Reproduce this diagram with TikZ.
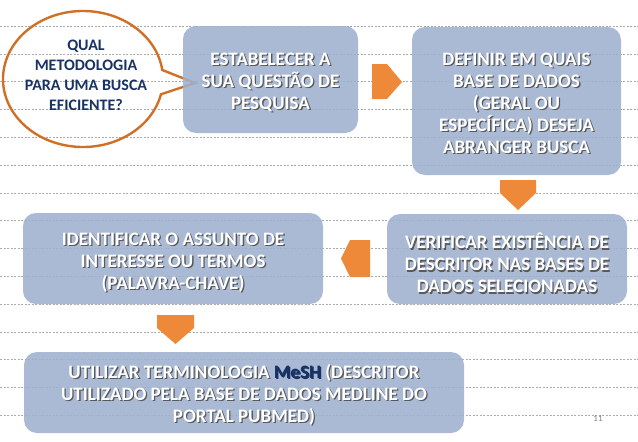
\documentclass[tikz,border=0pt]{standalone}
\usepackage{fontspec}
\setmainfont{Carlito}
\usepackage{xcolor}
\usetikzlibrary{calc}

\definecolor{caixaazul}{RGB}{158,177,207}
\definecolor{laranja}{RGB}{238,137,58}
\definecolor{contorno}{RGB}{208,112,38}
\definecolor{azulescuro}{RGB}{25,50,100}
\definecolor{tracejado}{RGB}{172,172,172}

% texto branco com sombra
\newcommand{\rotulo}[3]{%
  \node[sombra] at ($(#1)+(1.3,#2+1.3)$) {#3};
  \node[texto] (#1-texto) at ($(#1)+(0,#2)$) {#3};}

\begin{document}
\begin{tikzpicture}[x=1pt,y=-1pt,
  caixa/.style={fill=caixaazul, fill opacity=0.88, rounded corners=13pt, inner sep=0pt},
  texto/.style={text=white, font=\bfseries\fontsize{19}{22}\selectfont, align=center},
  sombra/.style={texto, text=black!65}]
\useasboundingbox (0,0) rectangle (638,442);

% linhas do fundo
\foreach \k in {0,...,14}
  \draw[tracejado, line width=0.5pt, dash pattern=on 2pt off 1.5pt] (0,26+27.8*\k) -- (638,26+27.8*\k);

% balao
\coordinate (bolhac) at (83,79);
\draw[contorno, line width=2.4pt] ($(bolhac)+(13:80 and 68)$) arc[start angle=13, end angle=352.4, x radius=80, y radius=68] -- (195,83) -- cycle;
\node[font=\bfseries\fontsize{16}{20}\selectfont, text=azulescuro, align=center] (pergunta) at (86,75) {QUAL\\METODOLOGIA\\PARA UMA BUSCA\\EFICIENTE?};

% caixas
\node[caixa, minimum width=175, minimum height=107] (estabelecer) at (270.5,79.5) {};
\rotulo{estabelecer}{3}{ESTABELECER A\\SUA QUESTÃO DE\\PESQUISA}
\node[caixa, minimum width=209, minimum height=148] (definir) at (516.5,101) {};
\rotulo{definir}{2}{DEFINIR EM QUAIS\\BASE DE DADOS\\(GERAL OU\\ESPECÍFICA) DESEJA\\ABRANGER BUSCA}
\node[caixa, minimum width=240, minimum height=90] (verificar) at (507,259) {};
\rotulo{verificar}{4}{VERIFICAR EXISTÊNCIA DE\\DESCRITOR NAS BASES DE\\DADOS SELECIONADAS}
\node[caixa, minimum width=300, minimum height=91] (identificar) at (173,258.5) {};
\rotulo{identificar}{4}{IDENTIFICAR O ASSUNTO DE\\INTERESSE OU TERMOS\\(PALAVRA-CHAVE)}
\node[caixa, minimum width=440, minimum height=81] (utilizar) at (244,392.5) {};
\rotulo{utilizar}{2}{UTILIZAR TERMINOLOGIA \textcolor{azulescuro}{MeSH} (DESCRITOR\\UTILIZADO PELA BASE DE DADOS MEDLINE DO\\PORTAL PUBMED)}

% setas
\fill[laranja] (372,64) -- (387,64) -- (402,82) -- (387,99) -- (372,99) -- cycle;
\fill[laranja] (500,180) -- (536,180) -- (536,193) -- (518,210) -- (500,193) -- cycle;
\fill[laranja] (370,240) -- (370,277) -- (350,277) -- (341,258.5) -- (350,240) -- cycle;
\fill[laranja] (157,315) -- (194,315) -- (194,328) -- (175.5,344) -- (157,328) -- cycle;

\node[text=gray, font=\fontsize{9}{10}\selectfont] (pagina) at (598,419) {11};
\end{tikzpicture}
\end{document}
